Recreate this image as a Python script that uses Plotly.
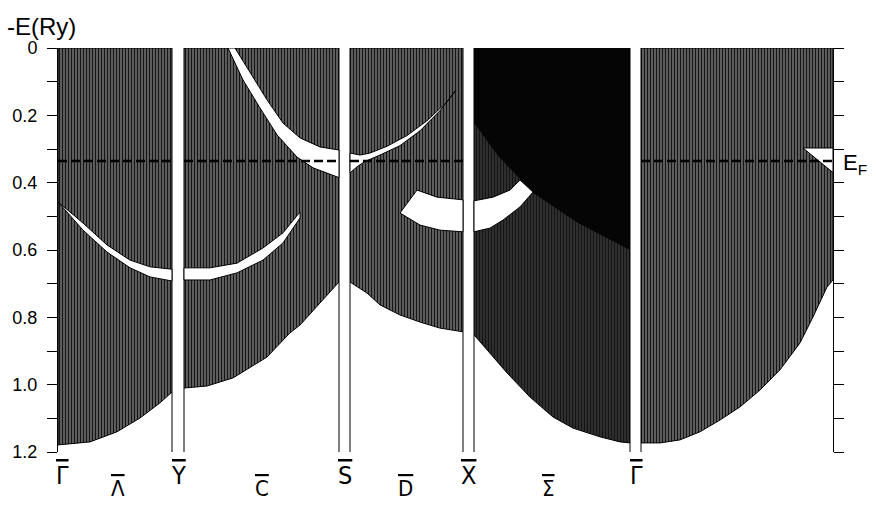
import plotly.graph_objects as go

# ---------------- data (k along the path, E = -E in Ry) ----------------
E_F = 0.336
E_MAX = 1.2

# panel limits along k-path (gaps are the white strips at symmetry points)
panel_k0 = [0.00, 1.26, 2.92, 4.16, 5.83]
panel_k1 = [1.14, 2.81, 4.05, 5.72, 7.75]

# lower edge of the projected bulk-band continuum in each panel
p1_bottom_k = [0.00, 0.32, 0.59, 0.82, 1.02, 1.14]
p1_bottom_E = [1.179, 1.170, 1.140, 1.099, 1.054, 1.022]
p2_bottom_k = [1.26, 1.49, 1.75, 2.09, 2.22, 2.32, 2.42, 2.62, 2.81]
p2_bottom_E = [1.010, 1.004, 0.980, 0.918, 0.876, 0.846, 0.823, 0.757, 0.695]
p3_bottom_k = [2.92, 3.09, 3.22, 3.42, 3.62, 3.82, 4.05]
p3_bottom_E = [0.695, 0.728, 0.763, 0.793, 0.814, 0.832, 0.843]
p4_bottom_k = [4.16, 4.29, 4.49, 4.72, 4.95, 5.15, 5.42, 5.62, 5.72]
p4_bottom_E = [0.852, 0.897, 0.965, 1.037, 1.096, 1.129, 1.155, 1.170, 1.173]
p5_bottom_k = [5.83, 6.02, 6.22, 6.42, 6.62, 6.82, 7.02, 7.22, 7.42, 7.55, 7.69, 7.75]
p5_bottom_E = [1.173, 1.173, 1.164, 1.140, 1.105, 1.066, 1.016, 0.956, 0.876, 0.799, 0.710, 0.689]

# gaps (white) in the projected band structure
gapA_k = [0.00, 0.25, 0.49, 0.72, 0.92, 1.14]
gapA_top = [0.457, 0.520, 0.585, 0.630, 0.650, 0.657]
gapA_bot = [0.457, 0.541, 0.606, 0.653, 0.680, 0.692]

gapB_k = [1.26, 1.52, 1.79, 2.05, 2.25, 2.42]
gapB_top = [0.653, 0.653, 0.639, 0.594, 0.549, 0.487]
gapB_bot = [0.689, 0.689, 0.668, 0.630, 0.579, 0.505]

gapC_top_k = [1.77, 1.92, 2.09, 2.25, 2.42, 2.62, 2.81]
gapC_top_E = [0.000, 0.074, 0.154, 0.223, 0.267, 0.294, 0.303]
gapC_bot_k = [1.70, 1.85, 2.02, 2.19, 2.39, 2.55, 2.81]
gapC_bot_E = [0.000, 0.095, 0.178, 0.258, 0.324, 0.356, 0.385]

gapD_top_k = [2.92, 3.02, 3.12, 3.29, 3.49, 3.69, 3.89, 3.98]
gapD_top_E = [0.312, 0.318, 0.312, 0.292, 0.260, 0.216, 0.160, 0.125]
gapD_bot_k = [2.92, 2.99, 3.07, 3.22, 3.42, 3.62, 3.82, 3.98]
gapD_bot_E = [0.371, 0.353, 0.337, 0.318, 0.290, 0.246, 0.186, 0.125]

gapE1_top_k = [3.59, 3.79, 4.05]
gapE1_top_E = [0.422, 0.443, 0.451]
gapE1_bot_k = [3.42, 3.62, 3.82, 4.05]
gapE1_bot_E = [0.490, 0.526, 0.541, 0.546]

gapE2_top_k = [4.16, 4.35, 4.52, 4.62, 4.75]
gapE2_top_E = [0.454, 0.443, 0.422, 0.392, 0.428]
gapE2_bot_k = [4.16, 4.32, 4.45, 4.62]
gapE2_bot_E = [0.546, 0.535, 0.511, 0.472]

gapF_k = [7.45, 7.75, 7.75]
gapF_E = [0.297, 0.297, 0.370]

# densely-overlapping (black) region in the X-Gamma panel
dense_k = [4.16, 5.72, 5.72, 5.20, 4.75, 4.62, 4.40, 4.16]
dense_E = [0.000, 0.000, 0.600, 0.520, 0.430, 0.390, 0.320, 0.223]

# labels
sym_k = [0.04, 1.20, 2.87, 4.10, 5.78, 7.80]
sym_labels = ["\u0393", "Y", "S", "X", "\u0393", "S"]
seg_k = [0.60, 2.04, 3.47, 4.90]
seg_labels = ["\u039B", "C", "D", "\u03A3"]

tick_vals = [0.0, 0.1, 0.2, 0.3, 0.4, 0.5, 0.6, 0.7, 0.8, 0.9, 1.0, 1.1, 1.2]
tick_text = ["0", "", "0.2", "", "0.4", "", "0.6", "", "0.8", "", "1.0", "", "1.2"]

# ---------------- figure ----------------
fig = go.Figure()

bottoms = [(p1_bottom_k, p1_bottom_E), (p2_bottom_k, p2_bottom_E),
           (p3_bottom_k, p3_bottom_E), (p4_bottom_k, p4_bottom_E),
           (p5_bottom_k, p5_bottom_E)]

for i, (bk, bE) in enumerate(bottoms):
    k0, k1 = panel_k0[i], panel_k1[i]
    xs = [k0, k1] + bk[::-1] + [k0]
    ys = [0, 0] + bE[::-1] + [0]
    bg = "#333333" if i == 3 else "#6c6c6c"
    fig.add_trace(go.Scatter(
        x=xs, y=ys, mode="lines", fill="toself",
        fillcolor=bg,
        fillpattern=dict(shape="|", size=3, solidity=0.45,
                         fgcolor="#151515", bgcolor=bg, fillmode="replace"),
        line=dict(color="black", width=1), hoverinfo="skip", showlegend=False))

# dense black region
fig.add_trace(go.Scatter(x=dense_k + [dense_k[0]], y=dense_E + [dense_E[0]],
                         mode="lines", fill="toself", fillcolor="#050505",
                         line=dict(color="#050505", width=0),
                         hoverinfo="skip", showlegend=False))


def add_gap(xs, ys):
    fig.add_trace(go.Scatter(x=xs + [xs[0]], y=ys + [ys[0]], mode="lines",
                             fill="toself", fillcolor="white",
                             line=dict(color="black", width=1),
                             hoverinfo="skip", showlegend=False))


add_gap(gapA_k + gapA_k[::-1], gapA_top + gapA_bot[::-1])
add_gap(gapB_k + gapB_k[::-1], gapB_top + gapB_bot[::-1])
add_gap(gapC_top_k + gapC_bot_k[::-1], gapC_top_E + gapC_bot_E[::-1])
add_gap(gapD_top_k + gapD_bot_k[::-1], gapD_top_E + gapD_bot_E[::-1])
add_gap(gapE1_top_k + gapE1_bot_k[::-1], gapE1_top_E + gapE1_bot_E[::-1])
add_gap(gapE2_top_k + gapE2_bot_k[::-1], gapE2_top_E + gapE2_bot_E[::-1])
add_gap(gapF_k, gapF_E)

# Fermi level (dashed) in each panel except the dark one
for i in [0, 1, 2, 4]:
    fig.add_trace(go.Scatter(x=[panel_k0[i], panel_k1[i]], y=[E_F, E_F], mode="lines",
                             line=dict(color="black", width=2.5, dash="9px,4px"),
                             hoverinfo="skip", showlegend=False))

# strip edge lines below the continuum
for i, (bk, bE) in enumerate(bottoms):
    for kk, ee in ((bk[0], bE[0]), (bk[-1], bE[-1])):
        if kk in (0.0, 7.75):
            continue
        fig.add_trace(go.Scatter(x=[kk, kk], y=[ee, E_MAX], mode="lines",
                                 line=dict(color="black", width=1),
                                 hoverinfo="skip", showlegend=False))

# dummy trace for right axis
fig.add_trace(go.Scatter(x=[panel_k1[-1]], y=[E_MAX], yaxis="y2", mode="markers",
                         marker=dict(opacity=0), hoverinfo="skip", showlegend=False))

sym_font = dict(family="Liberation Sans Narrow, DejaVu Sans Condensed, DejaVu Sans",
                size=25, color="black")
seg_font = dict(family="Liberation Sans Narrow, DejaVu Sans Condensed, DejaVu Sans",
                size=22, color="black")


def over(t):
    return '<span style="text-decoration:overline">' + t + '</span>'


for kk, t in zip(sym_k, sym_labels):
    fig.add_annotation(x=kk, y=0, yref="paper", text=over(t), showarrow=False,
                       xanchor="center", yanchor="top", yshift=-7, font=sym_font)
for kk, t in zip(seg_k, seg_labels):
    fig.add_annotation(x=kk, y=0, yref="paper", text=over(t), showarrow=False,
                       xanchor="center", yanchor="top", yshift=-22, font=seg_font)

fig.add_annotation(x=0, xref="paper", y=1, yref="paper", text="-E(Ry)",
                   showarrow=False, xanchor="left", yanchor="bottom",
                   xshift=-53, yshift=6,
                   font=dict(family="Liberation Sans", size=24, color="black"))
fig.add_annotation(x=1, xref="paper", y=E_F, yref="y",
                   text="E<sub>F</sub>", showarrow=False, xanchor="left",
                   yanchor="middle", xshift=8, yshift=-3,
                   font=dict(family="Liberation Sans", size=22, color="black"))

fig.update_layout(
    width=876, height=506,
    margin=dict(l=58, r=43, t=48, b=54, autoexpand=False),
    paper_bgcolor="white", plot_bgcolor="white",
    xaxis=dict(range=[0, 7.75], showgrid=False, zeroline=False, showline=False,
               showticklabels=False, ticks="", automargin=False),
    yaxis=dict(range=[E_MAX, 0], showgrid=False, zeroline=False, showline=True,
               linecolor="black", linewidth=1, ticks="outside", ticklen=10,
               tickcolor="black", tickvals=tick_vals, ticktext=tick_text,
               ticklabelstandoff=6, automargin=False,
               tickfont=dict(family="Liberation Sans", size=18, color="black")),
    yaxis2=dict(range=[E_MAX, 0], overlaying="y", side="right", anchor="x",
                showgrid=False, zeroline=False, showline=True, linecolor="black",
                linewidth=1, ticks="outside", ticklen=10, tickcolor="black",
                tickvals=tick_vals, showticklabels=False, automargin=False),
)

fig.write_html("out.html", config={"displayModeBar": False},
               post_script="document.body.style.margin='0px';")
